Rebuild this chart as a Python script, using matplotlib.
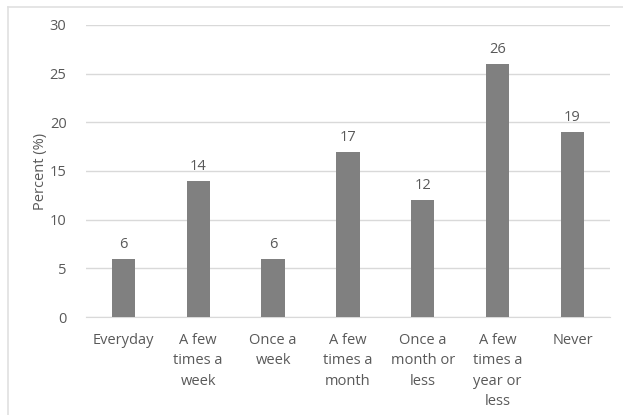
import matplotlib.pyplot as plt
from matplotlib.lines import Line2D

categories = [
    "Everyday",
    "A few\ntimes a\nweek",
    "Once a\nweek",
    "A few\ntimes a\nmonth",
    "Once a\nmonth or\nless",
    "A few\ntimes a\nyear or\nless",
    "Never",
]
percents = [6, 14, 6, 17, 12, 26, 19]
y_ticks = [0, 5, 10, 15, 20, 25, 30]

TEXT = "#595959"
BAR = "#808080"
GRID = "#d9d9d9"

plt.rcParams["font.family"] = ["Open Sans", "DejaVu Sans"]

fig = plt.figure(figsize=(6.23, 4.15), dpi=100)
ax = fig.add_axes([0.138, 0.236, 0.841, 0.704])

x = range(len(categories))
ax.bar(x, percents, width=0.31, color=BAR, zorder=3)
for xi, v in zip(x, percents):
    ax.annotate(str(v), (xi, v), xytext=(0, 5), textcoords="offset points",
                ha="center", va="bottom", fontsize=10.5, color=TEXT)

ax.set_xlim(-0.5, len(categories) - 0.5)
ax.set_ylim(0, 30)
ax.set_yticks(y_ticks)
ax.set_xticks(list(x))
ax.set_xticklabels(categories, linespacing=1.48)
ax.tick_params(axis="both", length=0, colors=TEXT, labelsize=10.5)
ax.tick_params(axis="x", pad=11.5)
ax.tick_params(axis="y", pad=14)
ax.yaxis.grid(True, color=GRID, linewidth=1, zorder=0)
for side in ["top", "right", "left"]:
    ax.spines[side].set_visible(False)
ax.spines["bottom"].set_color(GRID)
ax.set_ylabel("Percent (%)", color=TEXT, fontsize=10.5, labelpad=1)

# chart frame (left and top edges)
fig.add_artist(Line2D([0.013, 0.013], [0.0, 0.983], transform=fig.transFigure,
                      color="#e0e0e0", linewidth=1.2))
fig.add_artist(Line2D([0.013, 1.0], [0.983, 0.983], transform=fig.transFigure,
                      color="#e0e0e0", linewidth=1.2))

fig.savefig("out.png", dpi=100)
